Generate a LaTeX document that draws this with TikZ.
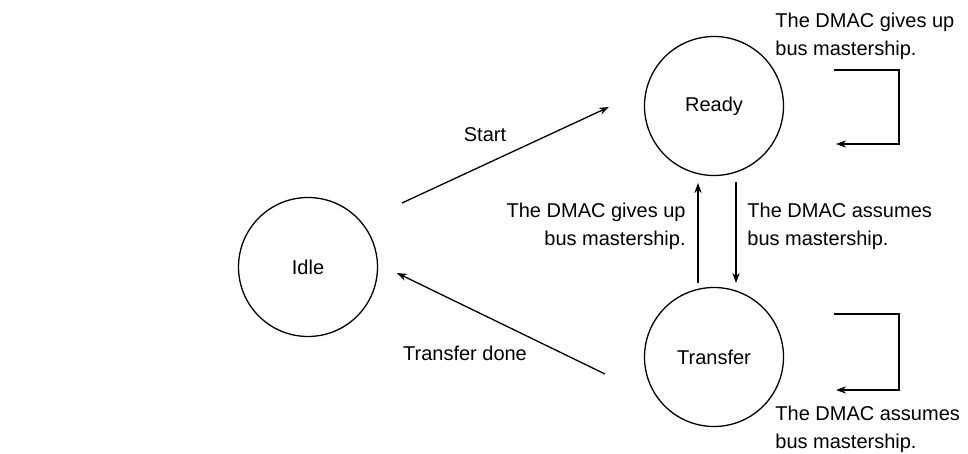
\documentclass[tikz,border=0pt]{standalone}
\usepackage{fontspec}
\setmainfont{Liberation Sans}
\usetikzlibrary{arrows.meta,positioning}

\begin{document}
\begin{tikzpicture}[x=0.5pt, y=-0.5pt, font=\fontsize{10}{14}\selectfont,
  >={Stealth[length=5pt, width=3.6pt]},
  st/.style={draw, circle, line width=0.65pt, minimum size=69.5pt, inner sep=0pt},
  tr/.style={->, line width=0.65pt},
  lbl/.style={inner sep=0pt, align=left}]
\useasboundingbox (0,0) rectangle (968,454);
\foreach \x/\y/\n/\t in {308/267/idle/Idle, 714/106/ready/Ready, 714/357/xfer/Transfer}
  \node[st] (\n) at (\x,\y) {\t};
% transitions between the states
\draw[tr] ([shift={(94,-64)}]idle.center) -- ([shift={(-105,1)}]ready.center);
\draw[tr] ([shift={(-109,17)}]xfer.center) -- ([shift={(89,6)}]idle.center);
\draw[tr] ([shift={(-16,-74)}]xfer.center) -- ([shift={(-16,77)}]ready.center);
\draw[tr] ([shift={(22,76)}]ready.center) -- ([shift={(22,-74)}]xfer.center);
% self loops
\draw[tr] ([shift={(120,-36)}]ready.center) -- ++(65,0) -- ++(0,74) -- ++(-63,0);
\draw[tr] ([shift={(120,-43)}]xfer.center) -- ++(65,0) -- ++(0,76) -- ++(-63,0);
% labels
\node (start) at (485,135) {Start};
\node (done) at (465,353) {Transfer done};
\node[lbl, anchor=west] (rgive) at (775,36) {The DMAC gives up\\bus mastership.};
\node[lbl, anchor=west] (xtake) at (775,429) {The DMAC assumes\\bus mastership.};
\node[lbl, anchor=east, align=right] (give) at (686,226) {The DMAC gives up\\bus mastership.};
\node[lbl, anchor=west] (take) at (747,226) {The DMAC assumes\\bus mastership.};
\end{tikzpicture}
\end{document}
